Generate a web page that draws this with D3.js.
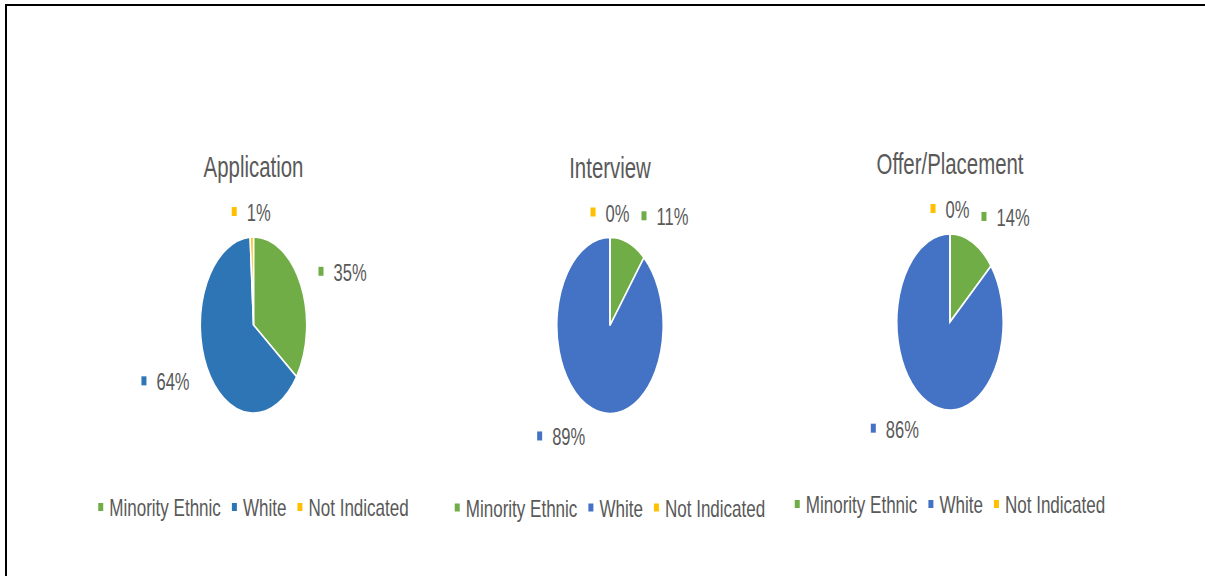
<!DOCTYPE html>
<html>
<head>
<meta charset="utf-8">
<script src="https://cdn.jsdelivr.net/npm/d3@7/dist/d3.min.js"></script>
<style>
  html, body { margin: 0; padding: 0; background: #fff; }
  svg { display: block; }
  text { font-family: "Liberation Sans", Arial, sans-serif; fill: #595959; }
</style>
</head>
<body>
<svg id="chart" width="1205" height="576"></svg>
<script>
// Candidate ethnicity at each recruitment stage (percent of candidates)
const stages = ["Application", "Interview", "Offer/Placement"];
const categories = ["Minority Ethnic", "White", "Not Indicated"];
const applicationShare = [35, 64, 1];
const interviewShare = [11, 89, 0];
const offerShare = [14, 86, 0];
const stageShares = [applicationShare, interviewShare, offerShare];

// Slice colours per stage (the first chart uses a darker blue)
const applicationColors = ["#70AD47", "#2E75B6", "#FFC000"];
const stageColors = ["#70AD47", "#4472C4", "#FFC000"];
const paletteByStage = [applicationColors, stageColors, stageColors];

// Layout
const W = 1205, H = 576;
const centersX = [253.5, 610, 950];
const centersY = [325, 325.5, 322];
const radius = 88;          // vertical radius of each pie
const squash = 0.605;       // pies are drawn as upright ellipses
const textSX = 0.69;        // condensed label text
const legendSX = 0.71;      // condensed legend text
const titleSX = 0.68;

const svg = d3.select("#chart");

// frame lines
svg.append("line").attr("x1", 5).attr("x2", W).attr("y1", 5).attr("y2", 5)
  .attr("stroke", "#000").attr("stroke-width", 2);
svg.append("line").attr("x1", 6).attr("x2", 6).attr("y1", 4).attr("y2", H)
  .attr("stroke", "#000").attr("stroke-width", 2);

const pie = d3.pie().sort(null).value(d => d);
const arc = d3.arc().innerRadius(0).outerRadius(radius);

function condensedText(g, str, x, y, size, sx, anchor) {
  return g.append("text")
    .attr("transform", `translate(${x},${y}) scale(${sx},1)`)
    .attr("font-size", size)
    .attr("text-anchor", anchor || "start")
    .text(str);
}

stages.forEach((stage, si) => {
  const cx = centersX[si], cy = centersY[si];
  const shares = stageShares[si];
  const colors = paletteByStage[si];
  const color = d3.scaleOrdinal().domain(categories).range(colors);
  const arcs = pie(shares);

  // title
  condensedText(svg, stage, cx, cy - 148, 30, titleSX, "middle");

  // slices
  const pg = svg.append("g")
    .attr("transform", `translate(${cx},${cy}) scale(${squash},1)`);
  pg.selectAll("path").data(arcs).join("path")
    .attr("d", arc)
    .attr("fill", (d, i) => color(categories[i]))
    .attr("stroke", "#fff")
    .attr("stroke-width", 1.6)
    .attr("vector-effect", "non-scaling-stroke");

  // data labels placed outside each slice's mid-angle
  const lg = svg.append("g");
  const markW = 5, markH = 9, gap = 10;
  const boxes = arcs.map((d, i) => {
    const mid = (d.startAngle + d.endAngle) / 2;
    const s = Math.sin(mid), c = Math.cos(mid);
    const nearVertical = Math.abs(s) < 0.2;
    const outY = nearVertical ? 24 : (c > 0 ? 27 : 31);
    const px = cx + s * radius * 1.37 * squash;
    const py = cy - c * (radius + outY);
    const label = lg.append("g");
    const txt = condensedText(label, shares[i] + "%", 0, 0, 24, textSX, "start");
    const tw = txt.node().getComputedTextLength() * textSX;
    const total = markW + gap + tw;
    let x0;
    if (nearVertical) x0 = px - total / 2;
    else if (s > 0) x0 = px;
    else x0 = px - total;
    const baseline = py + 8;
    return { i, label, txt, x0, total, baseline, side: nearVertical ? 0 : Math.sign(s) };
  });

  // keep right-hand labels clear of the label sitting above the pie
  const top = boxes.filter(b => b.side === 0);
  boxes.filter(b => b.side > 0).forEach(b => {
    top.forEach(t => {
      const overlapY = Math.abs(t.baseline - b.baseline) < 20;
      const minX = t.x0 + t.total + 12;
      if (overlapY && b.x0 < minX) b.x0 = minX;
    });
  });

  boxes.forEach(b => {
    b.label.insert("rect", "text")
      .attr("x", b.x0).attr("y", b.baseline - 14)
      .attr("width", markW).attr("height", markH)
      .attr("fill", color(categories[b.i]));
    b.txt.attr("transform", `translate(${b.x0 + markW + gap},${b.baseline}) scale(${textSX},1)`);
  });

  // legend
  const leg = svg.append("g");
  let x = 0;
  categories.forEach((cat, i) => {
    const it = leg.append("g");
    it.append("rect").attr("x", 0).attr("y", -13).attr("width", 5).attr("height", 8)
      .attr("fill", color(cat));
    const t = condensedText(it, cat, 11, 0, 24, legendSX, "start");
    const w = 11 + t.node().getComputedTextLength() * legendSX;
    it.attr("transform", `translate(${x},0)`);
    x += w + 11;
  });
  const legW = x - 11;
  leg.attr("transform", `translate(${cx - legW / 2},${cy + 191})`);
});
</script>
</body>
</html>
